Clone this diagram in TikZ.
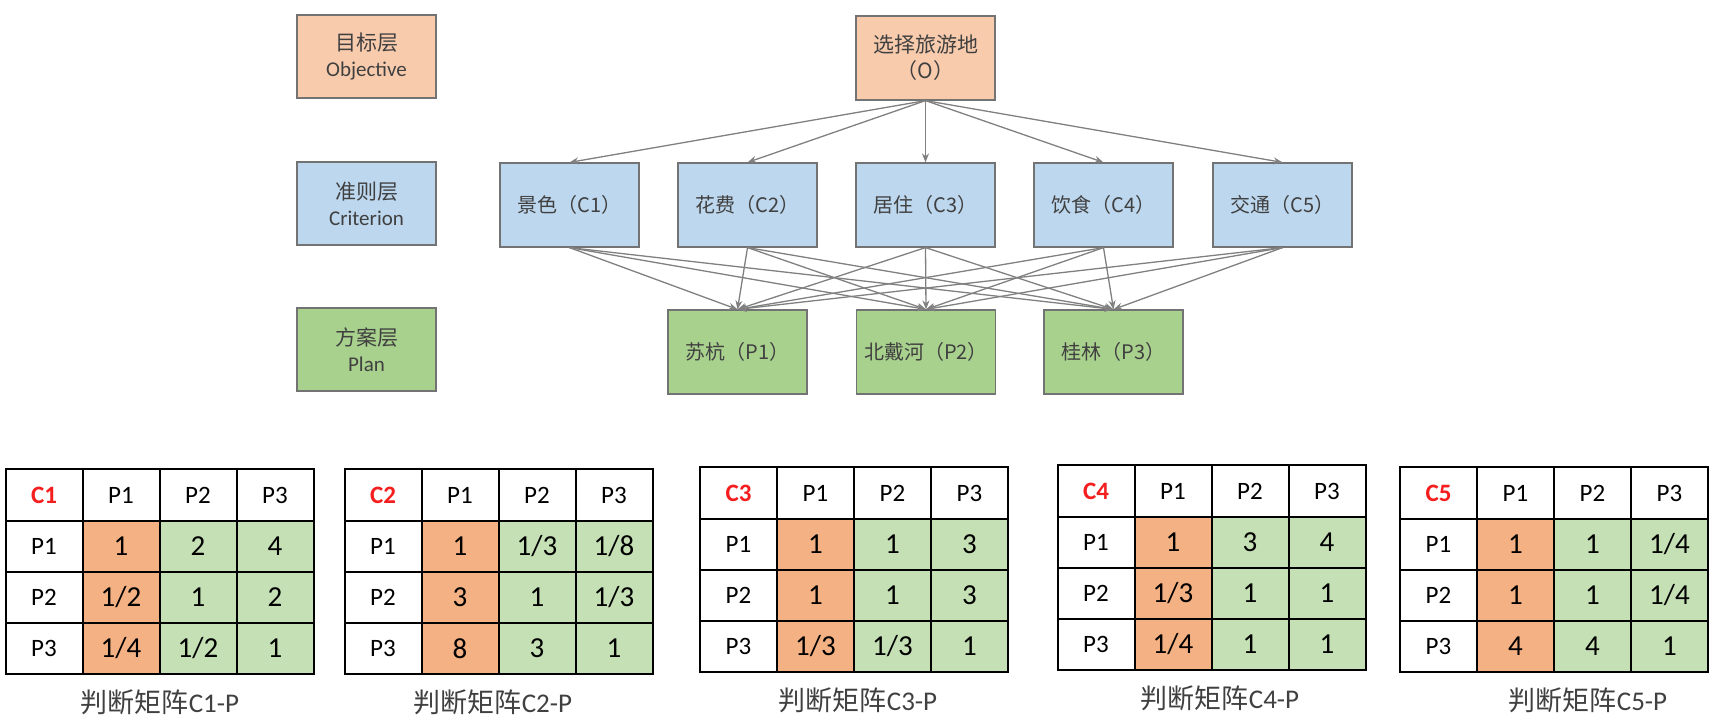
\documentclass[tikz,border=0pt]{standalone}
\usepackage{fontspec}
\setmainfont{Carlito}
\newfontfamily\cjk{Noto Sans CJK SC}
\usetikzlibrary{arrows.meta}
\definecolor{AhpOrange}{RGB}{248,203,173}
\definecolor{AhpBlue}{RGB}{189,215,238}
\definecolor{AhpGreen}{RGB}{169,209,142}
\definecolor{AhpCellOrange}{RGB}{244,177,131}
\definecolor{AhpCellGreen}{RGB}{197,224,180}
\definecolor{AhpRed}{RGB}{245,30,30}
\definecolor{AhpText}{RGB}{64,64,64}

\begin{document}
\begin{tikzpicture}[x=0.5pt,y=-0.5pt,
box/.style={draw=black!55,line width=0.6pt,text=AhpText,inner sep=0pt,align=center,minimum width=69.5pt,minimum height=42pt},
lvl/.style={box,fill=#1,minimum height=41.5pt,font=\fontsize{10.5}{13}\selectfont},
elem/.style={box,fill=#1,font=\cjk\fontsize{10}{13}\selectfont},
link/.style={draw=black!50,line width=0.65pt,-{Stealth[length=4.5pt,width=3.5pt]}},
cell/.style={draw,line width=1pt,minimum width=38.5pt,minimum height=25.5pt,inner sep=0pt,fill=#1,font=\fontsize{14.5}{16}\selectfont},
cell/.default=white,
lab/.style={cell,font=\fontsize{12.5}{14}\selectfont},
head/.style={lab,minimum height=26pt}]
\useasboundingbox (0,0) rectangle (1723,722);

% layer names
\node[lvl=AhpOrange] (objective) at (366.5,56.5) {{\cjk 目标层}\\Objective};
\node[lvl=AhpBlue] (criterion) at (366.5,203.5) {{\cjk 准则层}\\Criterion};
\node[lvl=AhpGreen] (plan) at (366.5,349.5) {{\cjk 方案层}\\Plan};

% hierarchy
\node[elem=AhpOrange,font=\cjk\fontsize{10.5}{13}\selectfont] (O) at (925.5,58) {选择旅游地\\（O）};
\foreach \x/\name/\lbl in {569.5/C1/景色,747.5/C2/花费,925.5/C3/居住,1103.5/C4/饮食,1282.5/C5/交通}
   \node[elem=AhpBlue] (\name) at (\x,205) {\lbl（\name）};
\foreach \x/\name/\lbl in {737.5/P1/苏杭,926/P2/北戴河,1113.5/P3/桂林}
   \node[elem=AhpGreen] (\name) at (\x,352) {\lbl（\name）};
\foreach \c in {C1,C2,C3,C4,C5} {
   \draw[link] (O.south) -- (\c.north);
   \foreach \p in {P1,P2,P3}
      \draw[link] (\c.south) -- (\p.north);
}

% judgement matrices
\foreach \k/\tx/\ty/\capx/\ra/\rb/\rc in %
{1/5.5/469/160/{1,2,4}/{1/2,1,2}/{1/4,1/2,1},
 2/344.5/469/493/{1,1/3,1/8}/{3,1,1/3}/{8,3,1},
 3/700/467/858/{1,1,3}/{1,1,3}/{1/3,1/3,1},
 4/1057.5/465/1220/{1,3,4}/{1/3,1,1}/{1/4,1,1},
 5/1400/467/1588/{1,1,1/4}/{1,1,1/4}/{4,4,1}} {
   \node[head] (t\k-0-0) at ({\tx+38.5},{\ty+26}) {\textcolor{AhpRed}{\bfseries C\k}};
   \foreach \j in {1,2,3}
      \node[head] (t\k-0-\j) at ({\tx+38.5+77*\j},{\ty+26}) {P\j};
   \foreach \i/\row in {1/\ra,2/\rb,3/\rc} {
      \node[lab] (t\k-\i-0) at ({\tx+38.5},{\ty+26.5+51*\i}) {P\i};
      \edef\rowlist{\row}
      \foreach \v [count=\j] in \rowlist {
         \ifnum\j=1 \def\tone{AhpCellOrange}\else\def\tone{AhpCellGreen}\fi
         \node[cell=\tone] (t\k-\i-\j) at ({\tx+38.5+77*\j},{\ty+26.5+51*\i}) {\v};
      }
   }
   \node[font=\fontsize{13.5}{16}\selectfont,text=AhpText] (cap\k) at (\capx,{\ty+233}) {{\cjk 判断矩阵}C\k-P};
}
\end{tikzpicture}
\end{document}
